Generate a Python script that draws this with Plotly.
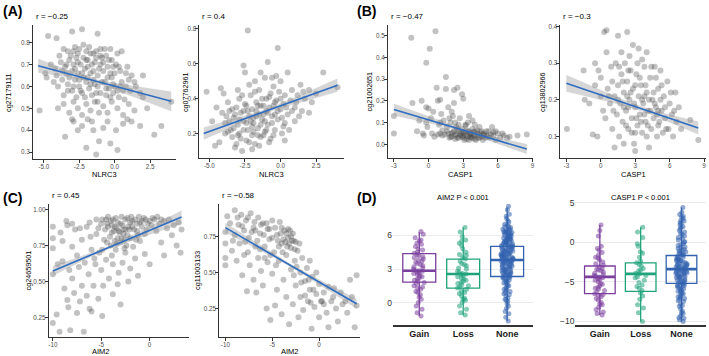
import numpy as np
import plotly.graph_objects as go

W, H = 709, 356
FONT = "Liberation Sans, Arial, sans-serif"

# ======================= DATA =======================
# Panel A: NLRC3 expression vs methylation (x, y)
A1_PTS = [(-4.7,0.83),(-4.1,0.82),(-3.0,0.85),(-2.3,0.86),(-1.2,0.84),(-3.6,0.77),(-3.3,0.76),(-2.8,0.78),
          (-2.5,0.77),(-2.0,0.76),(-1.8,0.78),(-1.5,0.75),(-1.0,0.77),(-0.3,0.77),(0.2,0.75),(0.5,0.76),
          (-3.9,0.74),(-2.2,0.79),(-1.3,0.76),(-4.5,0.70),(-4.2,0.68),(-3.8,0.71),(-3.5,0.69),(-3.2,0.72),
          (-3.0,0.67),(-2.7,0.73),(-2.4,0.70),(-2.1,0.68),(-1.9,0.72),(-1.6,0.70),(-1.3,0.73),(-1.1,0.68),
          (-0.8,0.71),(-0.5,0.69),(-0.2,0.72),(0.1,0.70),(0.4,0.67),(0.8,0.66),(-2.9,0.70),(-1.7,0.66),
          (-0.6,0.74),(-2.6,0.66),(-3.4,0.66),(0.0,0.66),(-1.0,0.74),(1.2,0.65),(2.0,0.65),(-4.9,0.66),
          (-4.8,0.64),(-4.3,0.62),(-4.0,0.60),(-3.7,0.63),(-3.3,0.61),(-3.0,0.58),(-2.8,0.63),(-2.5,0.60),
          (-2.3,0.57),(-2.0,0.62),(-1.8,0.59),(-1.5,0.63),(-1.2,0.60),(-1.0,0.57),(-0.7,0.62),(-0.4,0.59),
          (-0.1,0.61),(0.2,0.58),(0.5,0.62),(0.8,0.60),(1.1,0.58),(1.5,0.60),(1.8,0.57),(2.0,0.55),
          (-2.7,0.55),(-1.6,0.56),(-0.6,0.56),(0.3,0.55),(-3.6,0.56),(-0.2,0.64),(-2.2,0.64),(1.0,0.63),
          (-5.3,0.49),(-4.0,0.50),(-3.6,0.52),(-3.2,0.48),(-2.9,0.53),(-2.6,0.50),(-2.3,0.47),(-2.0,0.52),
          (-1.7,0.49),(-1.4,0.53),(-1.1,0.48),(-0.8,0.51),(-0.5,0.48),(-0.2,0.53),(0.2,0.50),(0.6,0.47),
          (1.0,0.52),(1.4,0.49),(4.0,0.53),(-3.0,0.45),(-1.9,0.45),(0.9,0.45),(2.3,0.50),(-3.5,0.37),
          (-2.9,0.44),(-2.6,0.40),(-2.3,0.42),(-2.0,0.32),(-1.5,0.40),(-1.3,0.29),(-1.1,0.35),(-0.8,0.41),
          (-0.3,0.34),(0.1,0.40),(0.2,0.31),(0.6,0.43),(1.2,0.44),(1.8,0.42),(2.8,0.38),(3.3,0.42),
          (-1.6,0.44),(-0.5,0.44),
          (-3.1,0.74),(-2.6,0.75),(-2.2,0.73),(-1.7,0.75),(-1.4,0.71),(-0.9,0.73),(-0.4,0.72),(-3.4,0.70),
          (-2.8,0.68),(-2.3,0.66),(-1.9,0.69),(-1.5,0.67),(-1.2,0.65),(-0.8,0.67),(-0.3,0.66),(0.3,0.69),
          (-3.2,0.64),(-2.5,0.63),(-1.9,0.64),(-1.4,0.61),(-0.9,0.62),(-0.5,0.64),(0.0,0.60),(0.6,0.58),
          (-2.9,0.60),(-2.4,0.58),(-1.7,0.61),(-1.3,0.57),(-0.6,0.59),(-0.1,0.57),(0.4,0.60),(-3.3,0.58),
          (-2.1,0.55),(-1.2,0.53),(-0.3,0.55),(0.7,0.54),(-2.6,0.71),(-2.0,0.72),(-1.0,0.70),(-0.1,0.69),
          (-3.7,0.67),(-4.1,0.65),(1.4,0.62),(0.9,0.69),(-0.7,0.77),(-2.9,0.76)]
A1_FIT_X = [-5.4, 4.0]
A1_FIT_Y = [0.694, 0.532]
A1_BAND = [0.032, 0.008, 0.045]      # CI half-width: left end, narrowest, right end
A1_R = "r = \u22120.25"

A2_PTS = [(-5.2,0.44),(-4.8,0.27),(-4.6,0.13),(-4.2,0.46),(-4.0,0.43),(-4.3,0.15),(-3.9,0.26),(-3.7,0.38),
          (-3.6,0.33),(-3.5,0.22),(-3.4,0.18),(-3.3,0.29),(-3.2,0.12),(-3.1,0.35),(-3.0,0.25),(-2.9,0.20),
          (-2.8,0.32),(-2.7,0.10),(-2.6,0.59),(-2.6,0.27),(-2.5,0.37),(-2.5,0.55),(-2.4,0.16),(-2.3,0.79),
          (-2.3,0.22),(-2.2,0.30),(-2.1,0.42),(-2.0,0.19),(-2.0,0.34),(-1.9,0.26),(-1.8,0.50),(-1.8,0.14),
          (-1.7,0.38),(-1.6,0.23),(-1.5,0.31),(-1.5,0.45),(-1.4,0.18),(-1.3,0.28),(-1.2,0.36),(-1.1,0.21),
          (-1.1,0.52),(-1.0,0.33),(-0.9,0.61),(-0.9,0.25),(-0.8,0.41),(-0.7,0.17),(-0.6,0.30),(-0.5,0.47),
          (-0.5,0.36),(-0.4,0.22),(-0.3,0.53),(-0.3,0.39),(-0.2,0.69),(-0.2,0.28),(-0.1,0.44),(0.0,0.34),
          (0.0,0.50),(0.1,0.20),(0.2,0.37),(0.3,0.42),(0.3,0.26),(0.5,0.55),(0.5,0.31),(0.7,0.39),
          (0.8,0.45),(1.0,0.35),(1.0,0.27),(1.2,0.42),(1.4,0.48),(1.5,0.33),(1.7,0.40),(2.0,0.45),
          (2.2,0.38),(2.5,0.43),(3.0,0.55),(4.0,0.465),(-3.8,0.30),(-2.9,0.40),(-2.2,0.48),(-1.4,0.55),
          (-0.6,0.52),(-1.6,0.36),(-2.6,0.33),(-3.3,0.23),(-1.9,0.29),(-1.2,0.19),(-0.4,0.31),(0.6,0.22),
          (-2.4,0.26),(-1.0,0.40),(1.3,0.30),(-4.5,0.35),(-3.9,0.20),(-0.8,0.15),(-2.0,0.11),(-1.5,0.13),
          (0.3,0.16),(2.0,0.32),(-3.0,0.45),(-1.7,0.30),
          (-3.6,0.27),(-3.2,0.31),(-2.9,0.28),(-2.6,0.22),(-2.3,0.33),(-2.1,0.27),(-1.9,0.21),(-1.7,0.33),
          (-1.4,0.25),(-1.2,0.31),(-1.0,0.22),(-0.8,0.35),(-0.6,0.26),(-0.4,0.38),(-0.2,0.33),(0.1,0.29),
          (0.4,0.35),(-2.8,0.17),(-2.4,0.36),(-2.0,0.24),(-1.6,0.19),(-1.3,0.40),(-0.9,0.32),(-0.5,0.19),
          (-3.4,0.34),(-3.0,0.19),(-2.2,0.15),(-1.1,0.27),(0.2,0.24),(0.8,0.33),(-1.8,0.44),(-0.7,0.43),
          (-2.7,0.42),(-3.1,0.14),(-1.4,0.36),(0.0,0.40),(-4.1,0.32),(-3.7,0.21),(1.1,0.38),(1.6,0.44)]
A2_FIT_X = [-5.4, 4.0]
A2_FIT_Y = [0.200, 0.477]
A2_BAND = [0.035, 0.012, 0.038]
A2_R = "r = 0.4"

# Panel B: CASP1
B1_PTS = [(-3.0,0.13),(-3.0,0.05),(-1.5,0.49),(-1.4,0.19),(-1.0,0.06),(-0.8,0.11),(-0.6,0.20),(-0.5,0.05),
          (-0.4,0.04),(-0.2,0.375),(-0.2,0.17),(-0.1,0.08),(0.1,0.44),(0.0,0.165),(0.2,0.12),(0.3,0.05),
          (0.4,0.15),(0.6,0.52),(0.7,0.26),(0.8,0.20),(0.9,0.09),(1.0,0.205),(1.0,0.05),(1.1,0.14),
          (1.2,0.04),(1.3,0.11),(1.5,0.31),(1.5,0.255),(1.6,0.06),(1.7,0.17),(1.8,0.03),(1.9,0.10),
          (2.0,0.05),(2.1,0.13),(2.2,0.25),(2.2,0.19),(2.3,0.04),(2.4,0.08),(2.5,0.26),(2.5,0.03),
          (2.6,0.06),(2.7,0.12),(2.8,0.04),(2.9,0.23),(2.9,0.07),(3.0,0.21),(3.0,0.03),(3.1,0.05),
          (3.2,0.09),(3.3,0.04),(3.4,0.06),(3.5,0.02),(3.5,0.13),(3.6,0.05),(3.7,0.03),(3.8,0.07),
          (3.9,0.04),(4.0,0.06),(4.1,0.02),(4.2,0.05),(4.3,0.03),(4.4,0.08),(4.5,0.04),(4.6,0.06),
          (4.7,0.02),(4.8,0.05),(4.9,0.03),(5.0,0.04),(5.2,0.06),(5.3,0.03),(5.5,0.08),(5.6,0.04),
          (5.8,0.02),(6.0,0.05),(6.2,0.03),(6.5,0.04),(6.8,0.03),(7.0,0.035),(7.7,0.04),(8.5,0.045),
          (1.4,0.045),(1.9,0.035),(2.7,0.045),(3.3,0.025),(3.9,0.055),(4.6,0.035),(5.4,0.045),(2.1,0.055),
          (3.0,0.055),(3.6,0.035),(4.3,0.045),(0.8,0.045),(0.5,0.035),(-0.2,0.10),(1.6,0.08),(2.3,0.10),
          (3.2,0.085),(4.0,0.09),(5.8,0.06),
          (1.7,0.05),(2.0,0.035),(2.2,0.06),(2.4,0.045),(2.6,0.03),(2.8,0.055),(3.0,0.04),(3.2,0.06),
          (3.4,0.035),(3.6,0.045),(3.8,0.03),(4.0,0.04),(4.2,0.065),(4.4,0.03),(4.8,0.04),(5.1,0.035),
          (5.6,0.055),(6.4,0.05),(1.2,0.065),(2.5,0.07),(3.5,0.06),(4.5,0.055),(5.0,0.06),(3.1,0.02),
          (4.0,0.025),(2.9,0.035),(3.7,0.05),(4.7,0.045),(2.3,0.025),(1.8,0.12),(2.6,0.09),(3.4,0.10),
          (1.0,0.10),(2.0,0.15),(3.8,0.11)]
B1_FIT_X = [-3.0, 8.5]
B1_FIT_Y = [0.160, -0.022]
B1_BAND = [0.027, 0.007, 0.023]
B1_R = "r = \u22120.47"

B2_PTS = [(-2.95,0.12),(-1.5,0.28),(-1.4,0.20),(-1.0,0.19),(-0.7,0.105),(-0.5,0.30),(-0.5,0.24),(-0.3,0.10),
          (-0.2,0.28),(0.0,0.26),(0.0,0.21),(0.2,0.17),(0.3,0.385),(0.4,0.15),(0.5,0.39),(0.5,0.33),
          (0.6,0.23),(0.8,0.19),(0.9,0.29),(1.0,0.12),(1.0,0.25),(1.2,0.21),(1.3,0.30),(1.4,0.16),
          (1.5,0.375),(1.5,0.24),(1.6,0.10),(1.7,0.19),(1.8,0.27),(1.9,0.14),(2.0,0.22),(2.1,0.30),
          (2.2,0.17),(2.3,0.385),(2.3,0.25),(2.4,0.12),(2.5,0.20),(2.6,0.28),(2.7,0.15),(2.8,0.35),
          (2.8,0.23),(2.9,0.08),(3.0,0.18),(3.1,0.27),(3.2,0.13),(3.3,0.34),(3.3,0.21),(3.4,0.16),
          (3.5,0.24),(3.6,0.11),(3.7,0.19),(3.8,0.29),(3.9,0.14),(4.0,0.33),(4.0,0.22),(4.1,0.17),
          (4.2,0.07),(4.3,0.26),(4.4,0.12),(4.5,0.20),(4.6,0.15),(4.7,0.29),(4.8,0.18),(4.9,0.10),
          (5.0,0.23),(5.1,0.14),(5.2,0.28),(5.3,0.17),(5.4,0.11),(5.5,0.21),(5.6,0.15),(5.8,0.25),
          (5.9,0.12),(6.0,0.19),(6.2,0.16),(6.3,0.10),(6.5,0.22),(6.6,0.14),(6.8,0.18),(7.0,0.12),
          (7.8,0.145),(8.5,0.09),(2.0,0.08),(3.0,0.06),(1.2,0.07),(3.6,0.31),(2.5,0.32),(4.8,0.26),
          (1.8,0.33),(3.0,0.24),(4.2,0.20),(2.4,0.18),(3.8,0.16),(5.0,0.13),
          (1.5,0.20),(1.9,0.25),(2.2,0.13),(2.6,0.22),(2.9,0.19),(3.1,0.15),(3.4,0.26),(3.6,0.20),
          (3.9,0.24),(4.1,0.13),(4.3,0.17),(4.6,0.22),(4.9,0.16),(5.2,0.20),(5.6,0.18),(6.1,0.22),
          (2.4,0.28),(3.2,0.30),(4.4,0.29),(1.1,0.17),(2.0,0.18),(2.7,0.11),(3.5,0.14),(4.0,0.10),
          (5.3,0.24),(5.7,0.12),(6.4,0.17),(0.7,0.21),(1.6,0.29),(3.0,0.11),(3.8,0.21),(4.7,0.19),
          (2.3,0.21),(5.0,0.17)]
B2_FIT_X = [-3.0, 8.5]
B2_FIT_Y = [0.245, 0.123]
B2_BAND = [0.023, 0.006, 0.018]
B2_R = "r = \u22120.3"

# Panel C: AIM2
C1_PTS = [(-10.0,0.88),(-10.0,0.80),(-10.0,0.73),(-10.0,0.55),(-10.0,0.21),(-9.6,0.27),(-9.5,0.62),(-9.3,0.15),
          (-9.2,0.84),(-9.0,0.78),(-9.0,0.64),(-8.8,0.45),(-8.6,0.92),(-8.5,0.37),(-8.5,0.89),(-8.4,0.32),
          (-8.3,0.58),(-8.2,0.16),(-8.0,0.74),(-8.0,0.52),(-7.8,0.42),(-7.7,0.86),(-7.5,0.68),(-7.5,0.28),
          (-7.3,0.60),(-7.2,0.36),(-7.0,0.79),(-7.0,0.47),(-6.8,0.15),(-6.7,0.63),(-6.5,0.88),(-6.5,0.40),
          (-6.3,0.55),(-6.2,0.31),(-6.0,0.72),(-6.0,0.29),(-5.8,0.47),(-5.6,0.62),(-5.5,0.93),(-5.5,0.83),
          (-5.3,0.38),(-5.2,0.70),(-5.0,0.90),(-5.0,0.58),(-4.9,0.26),(-4.8,0.47),(-4.7,0.79),(-4.5,0.93),
          (-4.5,0.65),(-4.3,0.88),(-4.2,0.52),(-4.0,0.75),(-4.0,0.92),(-3.8,0.62),(-3.8,0.41),(-3.7,0.85),
          (-3.5,0.94),(-3.5,0.72),(-3.3,0.80),(-3.3,0.48),(-3.2,0.56),(-3.0,0.90),(-3.0,0.77),(-3.0,0.34),
          (-2.8,0.63),(-2.7,0.86),(-2.5,0.93),(-2.5,0.70),(-2.3,0.82),(-2.2,0.50),(-2.0,0.91),(-2.0,0.59),
          (-1.8,0.88),(-1.7,0.74),(-1.5,0.93),(-1.5,0.66),(-1.3,0.85),(-1.2,0.54),(-1.0,0.91),(-1.0,0.78),
          (-0.8,0.88),(-0.6,0.94),(-0.5,0.69),(-0.3,0.86),(0.0,0.92),(0.0,0.62),(0.2,0.89),(0.5,0.93),
          (0.7,0.85),(1.0,0.90),(1.2,0.77),(1.5,0.92),(1.5,0.68),(1.8,0.87),(2.0,0.93),(2.3,0.82),
          (2.5,0.89),(2.8,0.75),(3.0,0.91),(3.2,0.70),(3.3,0.86),(-4.3,0.95),(-3.9,0.89),(-3.4,0.87),
          (-2.9,0.95),(-2.1,0.86),(-1.9,0.95),(-1.1,0.95),(-0.2,0.90),(0.8,0.95),(-4.6,0.86),(-3.1,0.84),
          (-2.6,0.79),(-3.6,0.78),(-4.1,0.81),(-2.4,0.75),
          (-4.9,0.93),(-4.4,0.90),(-3.8,0.93),(-3.3,0.91),(-2.8,0.89),(-2.3,0.94),(-1.8,0.92),(-1.3,0.90),
          (-0.8,0.92),(-0.4,0.93),(0.3,0.94),(1.2,0.93),(-3.6,0.88),(-3.2,0.85),(-2.7,0.83),(-2.2,0.88),
          (-1.6,0.86),(-1.2,0.82),(-0.5,0.83),(-3.9,0.84),(-2.9,0.80),(-2.5,0.86),(-1.4,0.79),(-3.4,0.76),
          (-2.6,0.73),(-4.4,0.77),(-5.3,0.87),(-6.2,0.91),(-7.2,0.87),(-8.0,0.90),(-6.1,0.81),(-4.9,0.72),
          (-5.7,0.66),(-3.9,0.68),(-2.0,0.80)]
C1_FIT_X = [-10.0, 3.3]
C1_FIT_Y = [0.573, 0.947]
C1_BAND = [0.034, 0.010, 0.046]
C1_R = "r = 0.45"

C2_PTS = [(-10.0,0.78),(-10.0,0.70),(-10.0,0.60),(-10.0,0.55),(-9.8,0.89),(-9.5,0.84),(-9.3,0.65),(-9.0,0.93),
          (-9.0,0.76),(-8.8,0.58),(-8.6,0.83),(-8.5,0.70),(-8.3,0.90),(-8.2,0.48),(-8.0,0.79),(-8.0,0.62),
          (-7.8,0.86),(-7.7,0.37),(-7.5,0.74),(-7.4,0.55),(-7.3,0.91),(-7.0,0.81),(-7.0,0.45),(-6.8,0.68),
          (-6.7,0.36),(-6.5,0.88),(-6.5,0.60),(-6.3,0.77),(-6.2,0.51),(-6.0,0.84),(-6.0,0.41),(-5.8,0.68),
          (-5.6,0.25),(-5.5,0.80),(-5.5,0.57),(-5.3,0.73),(-5.2,0.17),(-5.0,0.86),(-5.0,0.49),(-4.8,0.64),
          (-4.7,0.27),(-4.5,0.76),(-4.5,0.38),(-4.3,0.58),(-4.2,0.85),(-4.0,0.70),(-4.0,0.21),(-3.8,0.45),
          (-3.7,0.79),(-3.5,0.62),(-3.5,0.33),(-3.3,0.74),(-3.2,0.14),(-3.0,0.67),(-3.0,0.52),(-2.8,0.77),
          (-2.8,0.28),(-2.6,0.58),(-2.5,0.41),(-2.3,0.65),(-2.2,0.19),(-2.0,0.50),(-2.0,0.33),(-1.8,0.60),
          (-1.7,0.24),(-1.5,0.44),(-1.3,0.53),(-1.2,0.30),(-1.0,0.38),(-0.8,0.11),(-0.7,0.47),(-0.5,0.26),
          (-0.3,0.35),(0.0,0.42),(0.0,0.19),(0.3,0.30),(0.5,0.36),(0.8,0.22),(1.0,0.40),(1.0,0.12),
          (1.3,0.30),(1.6,0.39),(1.8,0.25),(2.0,0.16),(2.3,0.36),(2.5,0.28),(3.0,0.22),(3.3,0.45),
          (3.5,0.33),(3.8,0.12),(4.0,0.48),(4.0,0.27),(-3.3,0.80),(-3.0,0.75),(-2.7,0.72),(-3.6,0.71),
          (-4.3,0.68),(-2.1,0.70),(-1.0,0.58),(-0.3,0.50),(-6.8,0.79),(-7.6,0.64),(-5.2,0.62),(-2.4,0.54),
          (-1.5,0.34),(-0.9,0.29),(0.2,0.30),
          (-8.7,0.88),(-8.2,0.82),(-7.6,0.88),(-7.2,0.78),(-6.9,0.85),(-6.6,0.72),(-6.2,0.83),(-5.9,0.76),
          (-5.6,0.84),(-5.3,0.80),(-5.0,0.74),(-4.7,0.81),(-4.4,0.72),(-4.1,0.77),(-3.8,0.73),(-3.5,0.77),
          (-3.2,0.70),(-2.9,0.72),(-2.6,0.66),(-4.0,0.81),(-3.4,0.68),(-3.1,0.79),(-3.9,0.64),(-2.5,0.71),
          (-6.3,0.66),(-7.9,0.71),(-9.2,0.72),(-5.8,0.60),(-4.6,0.55),(-1.9,0.43),(-1.1,0.45),(0.5,0.28),
          (1.5,0.33),(2.8,0.30),(-0.6,0.38),(-2.7,0.48)]
C2_FIT_X = [-10.0, 4.0]
C2_FIT_Y = [0.810, 0.283]
C2_BAND = [0.034, 0.010, 0.034]
C2_R = "r = \u22120.58"

# Panel D: expression by copy-number group
GROUPS = ["Gain", "Loss", "None"]
D1_TITLE = "AIM2 P < 0.001"
D2_TITLE = "CASP1 P < 0.001"
# box statistics (lower whisker, Q1, median, Q3, upper whisker) per group
D1_LOW = [-1.2, -1.12, -1.65]
D1_Q1 = [1.82, 1.29, 2.33]
D1_MED = [2.85, 2.56, 3.80]
D1_Q3 = [4.38, 3.88, 5.03]
D1_HIGH = [6.30, 6.70, 8.50]
D2_LOW = [-9.2, -10.0, -10.0]
D2_Q1 = [-6.5, -6.2, -5.2]
D2_MED = [-4.38, -4.0, -3.4]
D2_Q3 = [-3.0, -2.6, -1.67]
D2_HIGH = [2.2, 1.9, 4.4]

D1_GAIN = [6.35, 6.1, 5.8, 5.5, 5.3, 5.2, 5.0, 4.8, 4.7, 4.5, 4.4, 4.3, 4.2, 4.1, 4.0, 3.9, 3.7, 3.6, 3.5,
           3.4, 3.3, 3.2, 3.1, 3.0, 2.9, 2.85, 2.8, 2.7, 2.6, 2.5, 2.4, 2.3, 2.2, 2.1, 2.0, 1.9, 1.8, 1.7,
           1.5, 1.3, 1.2, 1.0, 0.9, 0.7, 0.5, 0.3, 0.0, -0.3, -0.6, -0.9, -1.2, 5.6, 3.8, 2.6, 1.4]
D1_LOSS = [6.7, 6.3, 5.9, 5.6, 5.3, 5.1, 4.8, 4.5, 4.3, 4.0, 3.9, 3.7, 3.5, 3.3, 3.1, 3.0, 2.8, 2.7, 2.6,
           2.55, 2.5, 2.4, 2.2, 2.1, 2.0, 1.9, 1.7, 1.6, 1.5, 1.4, 1.3, 1.2, 1.0, 0.8, 0.6, 0.4, 0.2, 0.0,
           -0.3, -0.6, -0.9, -1.1, 5.5, 4.2, 3.4, 2.3, 1.8, 0.9, 0.3]
D1_NONE = [8.6, 8.3, 7.9, 7.7, 7.5, 7.3, 7.2, 7.0, 6.9, 6.85, 6.7, 6.6, 6.55, 6.5, 6.4, 6.35, 6.3, 6.2,
           6.15, 6.1, 6.0, 5.95, 5.9, 5.85, 5.8, 5.7, 5.65, 5.6, 5.5, 5.45, 5.4, 5.35, 5.3, 5.2, 5.15, 5.1,
           5.05, 5.0, 4.95, 4.9, 4.8, 4.75, 4.7, 4.65, 4.6, 4.55, 4.5, 4.45, 4.4, 4.35, 4.3, 4.25, 4.2,
           4.15, 4.1, 4.05, 4.0, 3.95, 3.9, 3.85, 3.8, 3.75, 3.7, 3.65, 3.6, 3.55, 3.5, 3.45, 3.4, 3.3,
           3.25, 3.2, 3.1, 3.05, 3.0, 2.9, 2.85, 2.8, 2.7, 2.65, 2.6, 2.5, 2.45, 2.4, 2.3, 2.25, 2.2, 2.1,
           2.0, 1.9, 1.85, 1.7, 1.6, 1.5, 1.4, 1.3, 1.1, 1.0, 0.9, 0.7, 0.6, 0.4, 0.3, 0.1, -0.1, -0.3,
           -0.5, -0.8, -1.0, -1.3, -1.65, 6.25, 5.75, 5.25, 4.85, 4.5, 4.1, 3.8, 3.6, 3.35, 3.15, 2.95,
           2.75, 2.55, 5.55, 4.7, 4.3, 3.9, 6.05, 5.35, 4.95, 4.15, 3.7, 6.45, 5.65, 5.1, 4.6, 4.25,
           3.95, 3.5, 3.2, 2.9, 2.6, 2.35, 2.05, 1.75, 1.2, 0.8, 0.2, 6.75, 6.3, 5.9, 5.4, 5.0, 4.4, 3.75]
D2_GAIN = [2.2, 1.5, 0.8, -0.5, -0.8, -1.0, -1.3, -1.6, -1.9, -2.2, -2.5, -2.7, -2.9, -3.1, -3.3, -3.5,
           -3.6, -3.8, -3.9, -4.1, -4.2, -4.3, -4.4, -4.5, -4.7, -4.8, -5.0, -5.2, -5.3, -5.5, -5.7, -5.9,
           -6.1, -6.3, -6.5, -6.7, -6.9, -7.1, -7.3, -7.6, -7.9, -8.2, -8.5, -8.8, -9.0, -9.2, -3.4, -4.6,
           -5.8, -6.6, -2.0, -7.8]
D2_LOSS = [1.9, 1.3, 0.6, -0.2, -1.2, -1.4, -1.9, -2.4, -2.8, -3.0, -3.3, -3.6, -3.9, -4.0, -4.2, -4.5,
           -4.8, -5.1, -5.4, -5.8, -6.1, -6.4, -6.8, -7.2, -7.9, -8.3, -8.9, -10.0, -2.6, -4.4, -5.6, -3.5,
           -0.5]
D2_NONE = [4.4, 3.8, 3.5, 3.2, 3.0, 2.7, 2.5, 2.2, 2.0, 1.7, 1.5, 1.3, 1.0, 0.8, 0.5, 0.3, 0.1, -0.2,
           -0.4, -0.6, -0.8, -1.0, -1.2, -1.35, -1.5, -1.65, -1.8, -1.95, -2.1, -2.2, -2.35, -2.5, -2.6,
           -2.7, -2.85, -2.95, -3.05, -3.15, -3.25, -3.35, -3.45, -3.55, -3.65, -3.75, -3.85, -3.95, -4.05,
           -4.15, -4.3, -4.4, -4.55, -4.7, -4.85, -5.0, -5.15, -5.3, -5.45, -5.6, -5.8, -6.0, -6.2, -6.4,
           -6.6, -6.8, -7.0, -7.2, -7.5, -7.8, -8.1, -8.4, -8.7, -9.0, -9.3, -9.6, -10.0, -9.8, -0.9, -1.9,
           -2.4, -2.9, -3.3, -3.7, -4.1, -4.6, -5.1, -5.7, -6.3, -7.1, 1.9, 0.6, -0.3, -1.4, -2.05, -2.75,
           -3.1, -3.5, -3.9, -4.35, -4.8, -5.5, -6.1, -6.9, 2.8, -1.1, -2.3, -3.0, -3.6, -4.2, -4.9,
           3.3, 2.4, 1.1, 0.0, -0.7, -1.55, -2.15, -2.65, -3.2, -3.8, -4.45, -5.25, -5.9, -6.5, -7.4,
           -8.0, -8.9, -9.5]

# ======================= STYLE / LAYOUT =======================
GROUP_COLORS = ["#7B3F9E", "#1FA37A", "#3363AF"]
POINT_COLOR = "rgba(70,70,70,0.33)"
LINE_COLOR = "#2F6DC0"
BAND_COLOR = "rgba(153,153,153,0.4)"


def xdom(l, r):
    return [l / W, r / W]


def ydom(t, b):
    return [1 - b / H, 1 - t / H]


fig = go.Figure()
layout = dict(width=W, height=H, margin=dict(l=0, r=0, t=0, b=0),
              paper_bgcolor="white", plot_bgcolor="white", showlegend=False,
              font=dict(family=FONT, color="black"), boxmode="overlay")
annotations = []


def ann(text, x, y, size, xanchor="center", yanchor="middle", bold=False, angle=0, color="black"):
    annotations.append(dict(text=f"<b>{text}</b>" if bold else text, x=x / W, y=1 - y / H,
                            xref="paper", yref="paper", showarrow=False, xanchor=xanchor,
                            yanchor=yanchor, textangle=angle,
                            font=dict(size=size, color=color, family=FONT)))


def ticks_fmt(vals, fmt):
    return [fmt.format(v) for v in vals]


def scatter_panel(k, pts, fitx, fity, band, rtext, dom, rng, xt, yt, xfmt, yfmt,
                  xlabel, ylabel, ylab_x, xlab_y, xlab_x=None):
    xa, ya = f"x{k}", f"y{k}"
    l, r, t, b = dom
    px = [p[0] for p in pts]
    py = [p[1] for p in pts]
    fig.add_trace(go.Scatter(x=px, y=py, mode="markers", xaxis=xa, yaxis=ya,
                             marker=dict(size=6, color=POINT_COLOR, line=dict(width=0)),
                             hoverinfo="skip"))
    # confidence band (hyperbolic, narrowest near the mean of x)
    x0, x1 = fitx
    y0, y1 = fity
    hl, hm, hr = band
    a = np.sqrt(max(hl ** 2 - hm ** 2, 1e-12))
    bb = np.sqrt(max(hr ** 2 - hm ** 2, 1e-12))
    xc = (a * x1 + bb * x0) / (a + bb)
    c = (a / (xc - x0)) ** 2
    xs = np.linspace(x0, x1, 80)
    hw = np.sqrt(hm ** 2 + c * (xs - xc) ** 2)
    ys = y0 + (y1 - y0) * (xs - x0) / (x1 - x0)
    fig.add_trace(go.Scatter(x=np.concatenate([xs, xs[::-1]]),
                             y=np.concatenate([ys + hw, (ys - hw)[::-1]]),
                             fill="toself", fillcolor=BAND_COLOR, line=dict(width=0),
                             mode="lines", xaxis=xa, yaxis=ya, hoverinfo="skip"))
    fig.add_trace(go.Scatter(x=fitx, y=fity, mode="lines", line=dict(color=LINE_COLOR, width=1.6),
                             xaxis=xa, yaxis=ya, hoverinfo="skip"))
    common = dict(showline=True, linecolor="#333333", linewidth=1, ticks="outside", ticklen=3,
                  tickwidth=1, tickcolor="#333333", tickfont=dict(size=6.3, color="#4D4D4D", family=FONT),
                  showgrid=False, zeroline=False, ticklabelstandoff=-2)
    layout["xaxis" + (str(k) if k > 1 else "")] = dict(
        domain=xdom(l, r), range=rng[0], anchor=ya, tickvals=xt, ticktext=ticks_fmt(xt, xfmt), **common)
    layout["yaxis" + (str(k) if k > 1 else "")] = dict(
        domain=ydom(t, b), range=rng[1], anchor=xa, tickvals=yt, ticktext=ticks_fmt(yt, yfmt), **common)
    ann(rtext, l + 1, t - 8, 8, xanchor="left")
    ann(xlabel, xlab_x if xlab_x is not None else (l + r) / 2, xlab_y, 7.5)
    ann(ylabel, ylab_x, (t + b) / 2, 7.2, angle=-90)


XA = [-5.0, -2.5, 0.0, 2.5]
XB = [-3, 0, 3, 6, 9]
XC = [-10, -5, 0]

scatter_panel(1, A1_PTS, A1_FIT_X, A1_FIT_Y, A1_BAND, A1_R, (32, 175, 22, 158),
              ([-5.77, 4.3], [0.268, 0.881]), XA, [0.3, 0.4, 0.5, 0.6, 0.7, 0.8], "{:.1f}", "{:.1f}",
              "NLRC3", "cg27179111", 8, 173)
scatter_panel(2, A2_PTS, A2_FIT_X, A2_FIT_Y, A2_BAND, A2_R, (199, 344, 22, 157),
              ([-5.7, 4.46], [0.059, 0.823]), XA, [0.2, 0.4, 0.6, 0.8], "{:.1f}", "{:.1f}",
              "NLRC3", "cg07762961", 185, 173)
scatter_panel(3, B1_PTS, B1_FIT_X, B1_FIT_Y, B1_BAND, B1_R, (388, 534, 22, 157),
              ([-3.52, 9.08], [-0.064, 0.55]), XB, [0.0, 0.1, 0.2, 0.3, 0.4, 0.5], "{:d}", "{:.1f}",
              "CASP1", "cg21002651", 370, 173)
scatter_panel(4, B2_PTS, B2_FIT_X, B2_FIT_Y, B2_BAND, B2_R, (561, 707, 22, 157),
              ([-3.52, 9.17], [0.0405, 0.405]), XB, [0.1, 0.2, 0.3, 0.4], "{:d}", "{:.1f}",
              "CASP1", "cg13802966", 543, 173)
scatter_panel(5, C1_PTS, C1_FIT_X, C1_FIT_Y, C1_BAND, C1_R, (48, 189, 203, 338),
              ([-10.41, 4.12], [0.112, 1.04]), XC, [0.25, 0.5, 0.75, 1.0], "{:d}", "{:.2f}",
              "AIM2", "cg24659501", 28, 352, xlab_x=100)
scatter_panel(6, C2_PTS, C2_FIT_X, C2_FIT_Y, C2_BAND, C2_R, (219, 360, 203, 338),
              ([-10.64, 4.36], [0.051, 0.976]), XC, [0.25, 0.5, 0.75], "{:d}", "{:.2f}",
              "AIM2", "cg11003133", 197, 352)


def box_panel(k, title, low, q1, med, q3, high, samples, dom, yrng, yt):
    xa, ya = f"x{k}", f"y{k}"
    l, r, t, b = dom
    for i, col in enumerate(GROUP_COLORS):
        fig.add_trace(go.Box(x=[i], q1=[q1[i]], median=[med[i]], q3=[q3[i]],
                             lowerfence=[low[i]], upperfence=[high[i]], width=0.75,
                             whiskerwidth=0, boxpoints=False, line=dict(color=col, width=1.3),
                             fillcolor="rgba(255,255,255,0)", xaxis=xa, yaxis=ya, hoverinfo="skip"))
        fig.add_trace(go.Scatter(x=[i - 0.375, i + 0.375], y=[med[i], med[i]], mode="lines",
                                 line=dict(color=col, width=2.6), xaxis=xa, yaxis=ya,
                                 hoverinfo="skip"))
        vals = samples[i]
        fig.add_trace(go.Box(x=[i] * len(vals), y=vals, boxpoints="all", jitter=0.4, pointpos=0,
                             width=0.75, line=dict(width=0, color="rgba(0,0,0,0)"),
                             fillcolor="rgba(0,0,0,0)",
                             marker=dict(color=col, size=5, opacity=0.55, line=dict(width=0)),
                             xaxis=xa, yaxis=ya, hoverinfo="skip"))
    layout["xaxis" + str(k)] = dict(domain=xdom(l, r), range=[-0.6, 2.6], anchor=ya,
                                    tickvals=[0, 1, 2], ticktext=[f"<b>{g}</b>" for g in GROUPS],
                                    tickfont=dict(size=9, color="#1A1A1A", family=FONT),
                                    showline=True, linecolor="#333333", linewidth=1.3, ticks="",
                                    showgrid=False, zeroline=False)
    layout["yaxis" + str(k)] = dict(domain=ydom(t, b), range=yrng, anchor=xa, tickvals=yt,
                                    ticktext=[str(v).replace("-", "\u2212") for v in yt],
                                    tickfont=dict(size=8.5, color="#333333", family=FONT),
                                    showgrid=True, gridcolor="#EBEBEB", gridwidth=1, showline=False,
                                    ticks="", zeroline=False)
    ann(title, (l + r) / 2, 197, 7.5)


box_panel(7, D1_TITLE, D1_LOW, D1_Q1, D1_MED, D1_Q3, D1_HIGH, [D1_GAIN, D1_LOSS, D1_NONE],
          (393, 534, 203, 326), [-2.03, 8.83], [0, 3, 6])
box_panel(8, D2_TITLE, D2_LOW, D2_Q1, D2_MED, D2_Q3, D2_HIGH, [D2_GAIN, D2_LOSS, D2_NONE],
          (576, 707, 200, 326), [-10.5, 5.25], [-10, -5, 0, 5])

# panel letters
ann("(A)", 0, 8, 14, xanchor="left", bold=True)
ann("(B)", 355, 8, 14, xanchor="left", bold=True)
ann("(C)", 0, 197, 14, xanchor="left", bold=True)
ann("(D)", 355, 197, 14, xanchor="left", bold=True)

layout["annotations"] = annotations
fig.update_layout(**layout)
fig.write_html("out.html", config={"displayModeBar": False, "staticPlot": True},
               post_script="document.body.style.margin='0';")
